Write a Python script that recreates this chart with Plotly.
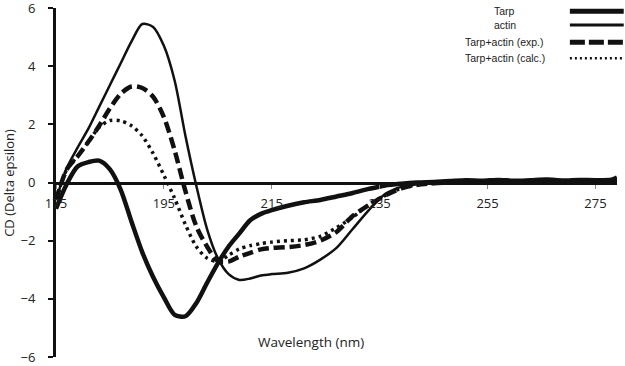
import plotly.graph_objects as go

wavelength = [175, 177, 179, 181, 183, 185, 187, 189, 191, 193, 195, 197, 199, 201, 203,
              205, 207, 209, 211, 213, 215, 218, 221, 224, 227, 230, 233, 236, 239, 242,
              245, 248, 251, 254, 257, 260, 263, 266, 269, 272, 275, 278, 279]

tarp = [-0.9, -0.05, 0.55, 0.7, 0.75, 0.45, -0.25, -1.35, -2.4, -3.25, -3.95, -4.55, -4.6, -4.15, -3.45,
        -2.78, -2.2, -1.75, -1.3, -1.08, -0.95, -0.8, -0.68, -0.6, -0.48, -0.36, -0.22, -0.1, -0.04, 0.0,
        0.02, 0.05, 0.08, 0.06, 0.09, 0.06, 0.08, 0.1, 0.07, 0.09, 0.08, 0.1, 0.17]

actin = [-0.6, 0.5, 1.2, 1.85, 2.6, 3.35, 4.1, 4.85, 5.45, 5.35, 4.7, 3.5, 1.6, -0.1, -1.6,
         -2.6, -3.15, -3.35, -3.3, -3.2, -3.15, -3.1, -2.95, -2.65, -2.25, -1.6, -0.95, -0.4, -0.15, -0.06,
         -0.03, -0.01, 0.0, 0.02, 0.03, 0.02, 0.03, 0.04, 0.03, 0.04, 0.03, 0.04, 0.05]

exp = [-0.6, 0.45, 0.9, 1.4, 1.95, 2.55, 3.05, 3.3, 3.25, 2.95, 2.25, 1.1, -0.3, -1.5, -2.2,
       -2.7, -2.72, -2.55, -2.42, -2.3, -2.25, -2.22, -2.15, -2.0, -1.7, -1.15, -0.78, -0.45, -0.2, -0.08,
       -0.03, 0.0, 0.02, 0.03, 0.04, 0.03, 0.04, 0.05, 0.04, 0.05, 0.04, 0.05, 0.06]

calc = [-0.6, 0.45, 0.9, 1.4, 1.9, 2.13, 2.12, 1.95, 1.6, 1.0, 0.25, -0.55, -1.45, -2.2, -2.6,
        -2.72, -2.5, -2.28, -2.17, -2.1, -2.05, -2.0, -1.97, -1.85, -1.55, -1.2, -0.75, -0.45, -0.2, -0.08,
        -0.03, 0.0, 0.02, 0.03, 0.04, 0.03, 0.04, 0.05, 0.04, 0.05, 0.04, 0.05, 0.06]

x_ticks = [175, 195, 215, 235, 255, 275]
y_ticks = [-6, -4, -2, 0, 2, 4, 6]

series_names = ["Tarp", "actin", "Tarp+actin (exp.)", "Tarp+actin (calc.)"]

ink = "#111111"
font_fam = "Open Sans, Liberation Sans, sans-serif"

fig = go.Figure()
styles = [
    (tarp, dict(color=ink, width=4.5, dash="solid")),
    (actin, dict(color=ink, width=2.5, dash="solid")),
    (exp, dict(color=ink, width=4.5, dash="11px,5px")),
    (calc, dict(color=ink, width=3.5, dash="3px,4px")),
]
for name, (vals, ln) in zip(series_names, styles):
    fig.add_trace(go.Scatter(x=wavelength, y=vals, mode="lines", name=name,
                             line=dict(shape="spline", smoothing=0.8, **ln),
                             showlegend=False))

fig.update_layout(
    width=625, height=366, autosize=False,
    margin=dict(l=56, r=8, t=8, b=9, autoexpand=False),
    paper_bgcolor="white", plot_bgcolor="white",
    font=dict(family=font_fam, color="#222222", size=13),
    xaxis=dict(range=[175, 279], tickvals=x_ticks, ticktext=[str(v) for v in x_ticks],
               anchor="free", position=0.5, showline=True, linewidth=3, linecolor=ink,
               ticks="outside", ticklen=4, tickcolor="#888888", tickwidth=1,
               showgrid=False, zeroline=False, ticklabelstandoff=4, automargin=False,
               ticklabeloverflow="allow", tickfont=dict(size=13)),
    yaxis=dict(range=[-6, 6], tickvals=y_ticks, showline=True, linewidth=3, linecolor=ink,
               ticks="outside", ticklen=5, tickcolor=ink, tickwidth=1.5,
               showgrid=False, zeroline=False, ticklabelstandoff=10, automargin=False,
               ticklabeloverflow="allow", tickfont=dict(size=13)),
)

annotations = [
    dict(text="CD (Delta epsilon)", x=-0.085, y=0.5, xref="paper", yref="paper",
         textangle=-90, showarrow=False, xanchor="center", yanchor="middle",
         font=dict(size=13)),
    dict(text="Wavelength (nm)", x=0.4545, y=0.042, xref="paper", yref="paper",
         showarrow=False, xanchor="center", yanchor="middle", font=dict(size=13.5)),
]

leg_y = [0.991, 0.951, 0.902, 0.856]
leg_styles = [
    dict(color=ink, width=5, dash="solid"),
    dict(color=ink, width=3, dash="solid"),
    dict(color=ink, width=5, dash="15px,4px"),
    dict(color=ink, width=2.5, dash="2px,3px"),
]
shapes = []
for name, yy, ls in zip(series_names, leg_y, leg_styles):
    annotations.append(dict(text=name, x=0.80, y=yy, xref="paper", yref="paper",
                            showarrow=False, xanchor="center", yanchor="middle",
                            font=dict(size=10.5, family="Liberation Sans, Arial, sans-serif",
                                      color="#222222")))
    shapes.append(dict(type="line", xref="paper", yref="paper", x0=0.916, x1=1.012,
                       y0=yy, y1=yy, line=ls))

fig.update_layout(annotations=annotations, shapes=shapes)

fig.write_html("out.html",
               config={"displayModeBar": False, "responsive": False},
               post_script="document.body.style.margin='0';document.body.style.padding='0';"
                           "document.body.style.overflow='hidden';")
